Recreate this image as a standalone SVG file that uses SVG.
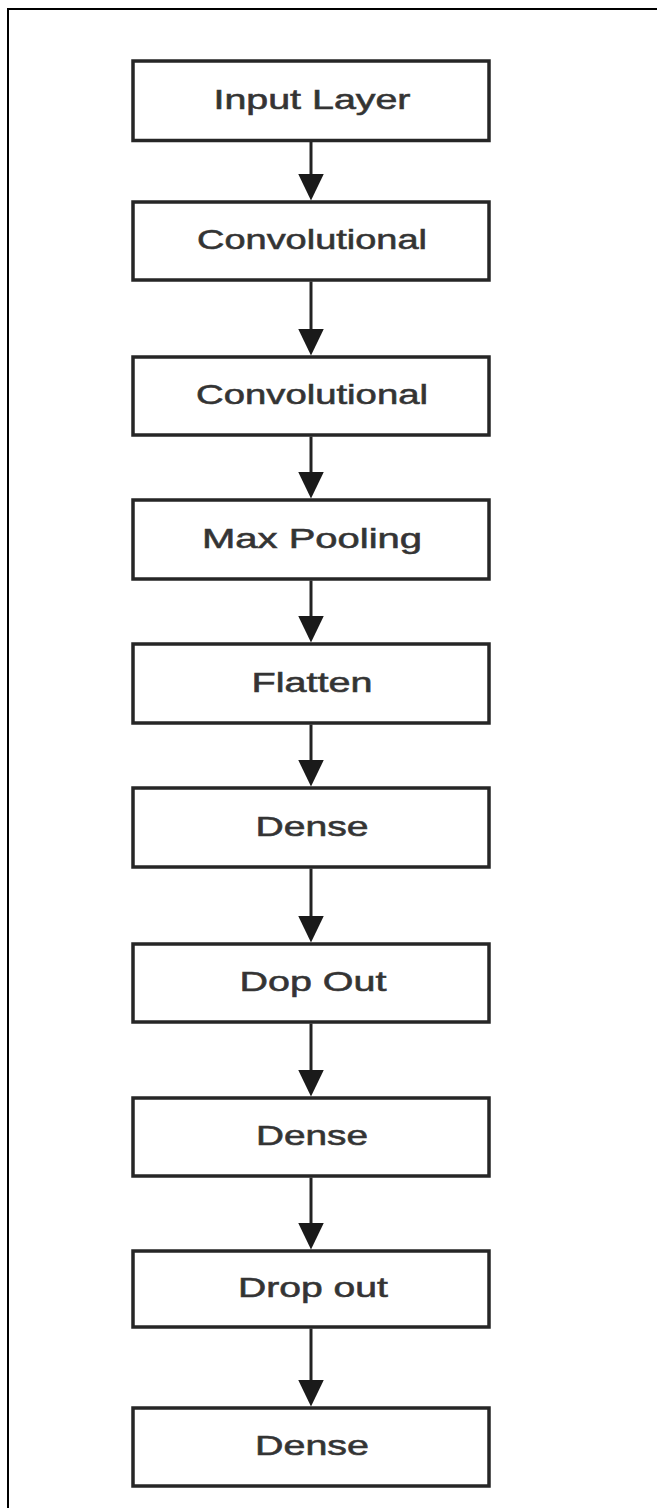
<svg xmlns="http://www.w3.org/2000/svg" width="657" height="1508" viewBox="0 0 657 1508">
<style>
.box{fill:#fff;stroke:#262626;stroke-width:3.5}
.lbl{font-family:"Liberation Sans",Arial,sans-serif;font-size:28px;fill:#333;stroke:#3a3a3a;stroke-width:0.6;text-anchor:middle}
.conn{stroke:#222;stroke-width:3;fill:none;marker-end:url(#ah)}
.frame{stroke:#000;stroke-width:2;fill:none}
</style>
<defs>
<marker id="ah" viewBox="0 0 27 26" refX="17" refY="13" markerWidth="27" markerHeight="26" markerUnits="userSpaceOnUse" orient="auto">
<path d="M0,0 L27,13 L0,26 z" fill="#1a1a1a"/>
</marker>
</defs>
<rect width="657" height="1508" fill="#fff"/>
<path class="frame" d="M8,1508 V9 H657"/>
<g id="connectors">
<line class="conn" x1="311" y1="142" x2="311" y2="190.5"/>
<line class="conn" x1="311" y1="281.5" x2="311" y2="345.5"/>
<line class="conn" x1="311" y1="436.5" x2="311" y2="488.5"/>
<line class="conn" x1="311" y1="580.5" x2="311" y2="632.5"/>
<line class="conn" x1="311" y1="724.5" x2="311" y2="776.5"/>
<line class="conn" x1="311" y1="868.5" x2="311" y2="932.5"/>
<line class="conn" x1="311" y1="1023.5" x2="311" y2="1086.5"/>
<line class="conn" x1="311" y1="1177.5" x2="311" y2="1239.5"/>
<line class="conn" x1="311" y1="1328.5" x2="311" y2="1396.5"/>
</g>
<g id="n1"><rect class="box" x="133" y="61" width="356" height="79.5"/><text class="lbl" x="312" y="108.5" textLength="197" lengthAdjust="spacingAndGlyphs">Input Layer</text></g>
<g id="n2"><rect class="box" x="133" y="202" width="356" height="78"/><text class="lbl" x="312" y="249" textLength="230" lengthAdjust="spacingAndGlyphs">Convolutional</text></g>
<g id="n3"><rect class="box" x="133" y="357" width="356" height="78"/><text class="lbl" x="312" y="404" textLength="232" lengthAdjust="spacingAndGlyphs">Convolutional</text></g>
<g id="n4"><rect class="box" x="133" y="500" width="356" height="79"/><text class="lbl" x="312" y="547.5" textLength="220" lengthAdjust="spacingAndGlyphs">Max Pooling</text></g>
<g id="n5"><rect class="box" x="133" y="644" width="356" height="79"/><text class="lbl" x="312" y="691.5" textLength="121" lengthAdjust="spacingAndGlyphs">Flatten</text></g>
<g id="n6"><rect class="box" x="133" y="788" width="356" height="79"/><text class="lbl" x="312" y="835.5" textLength="113" lengthAdjust="spacingAndGlyphs">Dense</text></g>
<g id="n7"><rect class="box" x="133" y="944" width="356" height="78"/><text class="lbl" x="313" y="991" textLength="147" lengthAdjust="spacingAndGlyphs">Dop Out</text></g>
<g id="n8"><rect class="box" x="133" y="1098" width="356" height="78"/><text class="lbl" x="312" y="1145" textLength="112" lengthAdjust="spacingAndGlyphs">Dense</text></g>
<g id="n9"><rect class="box" x="133" y="1251" width="356" height="76"/><text class="lbl" x="313" y="1297" textLength="150" lengthAdjust="spacingAndGlyphs">Drop out</text></g>
<g id="n10"><rect class="box" x="133" y="1408" width="356" height="78"/><text class="lbl" x="312" y="1455" textLength="114" lengthAdjust="spacingAndGlyphs">Dense</text></g>
</svg>
